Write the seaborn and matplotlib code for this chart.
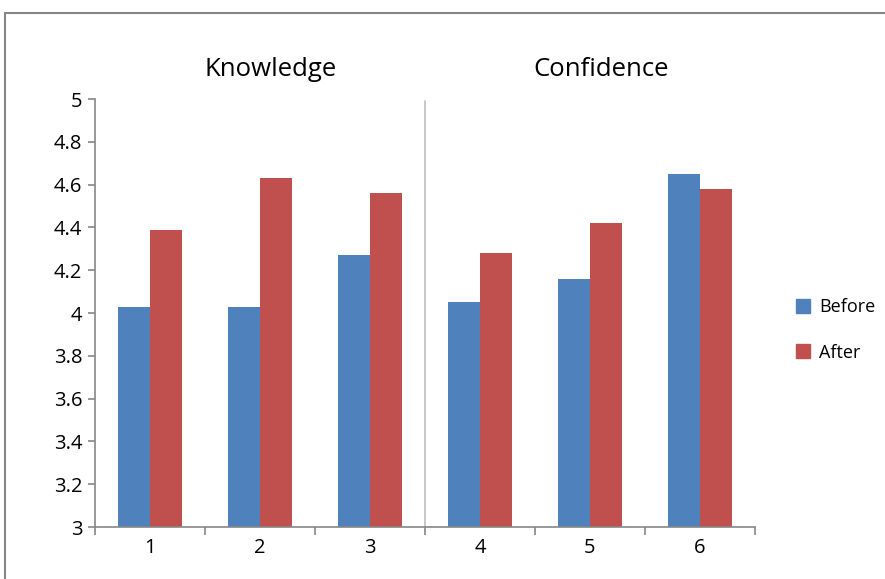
import pandas as pd
import numpy as np
import matplotlib.pyplot as plt
import seaborn as sns
from matplotlib.patches import Rectangle

items = ['1', '2', '3', '4', '5', '6']
before = [4.03, 4.03, 4.27, 4.05, 4.16, 4.65]
after = [4.39, 4.63, 4.56, 4.28, 4.42, 4.58]
groups = ['Knowledge', 'Confidence']
yticks = [3, 3.2, 3.4, 3.6, 3.8, 4, 4.2, 4.4, 4.6, 4.8, 5]
ytick_labels = ['3', '3.2', '3.4', '3.6', '3.8', '4', '4.2', '4.4', '4.6', '4.8', '5']

data = pd.DataFrame({
    'item': items * 2,
    'score': before + after,
    'when': ['Before'] * len(items) + ['After'] * len(items),
})

sns.set_style('white')
plt.rcParams['font.family'] = ['Open Sans', 'DejaVu Sans']
plt.rcParams['text.color'] = 'black'
plt.rcParams['xtick.color'] = 'black'
plt.rcParams['ytick.color'] = 'black'

fig = plt.figure(figsize=(8.85, 5.79), dpi=100)
ax = fig.add_axes([0.1073, 0.0898, 0.7458, 0.7392])

sns.barplot(data=data, x='item', y='score', hue='when',
            palette={'Before': '#4F81BD', 'After': '#C0504D'},
            width=0.575, saturation=1, linewidth=0, ax=ax, legend=False)

ax.set_ylim(3, 5)
ax.set_xlim(-0.5, 5.5)
ax.set_yticks(yticks)
ax.set_yticklabels(ytick_labels, fontsize=14.5)

# labels at the centres, tick marks at the boundaries
ax.set_xticks(np.arange(-0.5, 6, 1))
ax.set_xticklabels([])
ax.set_xticks(np.arange(6), minor=True)
ax.set_xticklabels(items, minor=True, fontsize=14.5)
ax.tick_params(axis='x', which='minor', bottom=True, length=0, pad=8)
ax.tick_params(axis='x', which='major', bottom=True, length=6, direction='out', color='#868686', width=1.2)
ax.tick_params(axis='y', left=True, length=5, direction='out', color='#868686', width=1.2, pad=4)
ax.set_xlabel('')
ax.set_ylabel('')

for s in ['top', 'right']:
    ax.spines[s].set_visible(False)
for s in ['left', 'bottom']:
    ax.spines[s].set_color('#868686')
    ax.spines[s].set_linewidth(1.2)

# separator between the two groups
ax.plot([2.5, 2.5], [3, 4.99], color='#BFBFBF', lw=1.2, zorder=0)

ax.text(1.1, 1.068, groups[0], transform=ax.get_xaxis_transform(),
        ha='center', va='center', fontsize=18.5)
ax.text(4.1, 1.068, groups[1], transform=ax.get_xaxis_transform(),
        ha='center', va='center', fontsize=18.5)

handles = [Rectangle((0, 0), 1, 1, color='#4F81BD'), Rectangle((0, 0), 1, 1, color='#C0504D')]
fig.legend(handles, ['Before', 'After'], loc='center left', bbox_to_anchor=(0.881, 0.43),
           frameon=False, fontsize=13, handlelength=0.8, handleheight=0.8,
           handletextpad=0.5, labelspacing=1.5)

fig.patches.append(Rectangle((5 / 885, -0.05), 1.2, 1 - 13 / 579 + 0.05,
                             transform=fig.transFigure, fill=False,
                             edgecolor='#868686', lw=1.5, zorder=-1))

fig.savefig('out.png', dpi=100)
